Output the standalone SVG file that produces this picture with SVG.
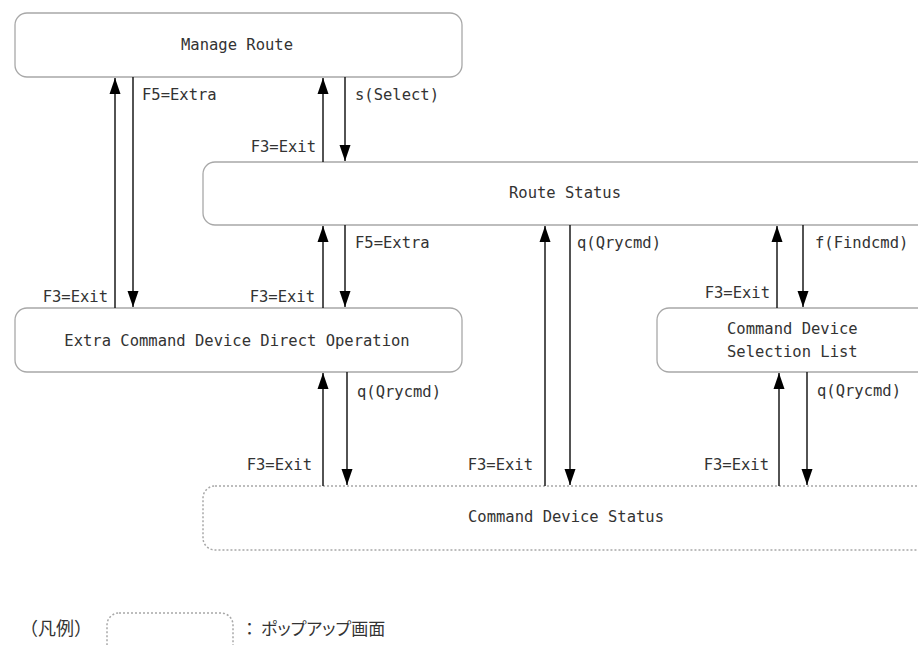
<svg xmlns="http://www.w3.org/2000/svg" width="918" height="645" viewBox="0 0 918 645">
<style>
.box{fill:#fff;stroke:#a8a8a8;stroke-width:1.3}
.pop{fill:#fff;stroke:#a8a8a8;stroke-width:1.5;stroke-dasharray:2 2}
.t{font-family:"DejaVu Sans Mono","Liberation Mono",monospace;font-size:15.5px;fill:#333}
.c{text-anchor:middle}
.r{text-anchor:end}
.jp{font-family:"Noto Sans CJK JP","Noto Sans",sans-serif;font-size:17px;fill:#333}
.pa{font-feature-settings:"palt"}
.ln{stroke:#1a1a1a;stroke-width:1.5;fill:none;marker-end:url(#ah)}
</style>
<defs>
<marker id="ah" viewBox="0 -6 16 12" refX="16" refY="0" markerWidth="16" markerHeight="12" markerUnits="userSpaceOnUse" orient="auto">
<path d="M0,-5.5 L16,0 L0,5.5 z" fill="#000"/>
</marker>
</defs>
<rect width="918" height="645" fill="#fff"/>

<g id="manage-route">
<rect class="box" x="15" y="13" width="447" height="64" rx="12"/>
<text class="t c" x="237" y="50">Manage Route</text>
</g>
<g id="route-status">
<rect class="box" x="203" y="162" width="740" height="63" rx="12"/>
<text class="t c" x="565" y="198">Route Status</text>
</g>
<g id="extra-command">
<rect class="box" x="15" y="308" width="447" height="64" rx="12"/>
<text class="t c" x="237" y="346">Extra Command Device Direct Operation</text>
</g>
<g id="cmd-selection">
<rect class="box" x="657" y="308" width="290" height="64" rx="12"/>
<text class="t" x="727" y="334">Command Device</text>
<text class="t" x="727" y="357">Selection List</text>
</g>
<g id="cmd-status">
<rect class="pop" x="203" y="486" width="740" height="64" rx="12"/>
<text class="t" x="468" y="522">Command Device Status</text>
</g>

<g id="connectors">
<line class="ln" x1="115" y1="308" x2="115" y2="78"/>
<line class="ln" x1="133" y1="77" x2="133" y2="307"/>
<line class="ln" x1="323" y1="162" x2="323" y2="78"/>
<line class="ln" x1="345" y1="77" x2="345" y2="161"/>
<line class="ln" x1="323" y1="308" x2="323" y2="226"/>
<line class="ln" x1="345" y1="225" x2="345" y2="307"/>
<line class="ln" x1="545" y1="486" x2="545" y2="226"/>
<line class="ln" x1="570" y1="225" x2="570" y2="485"/>
<line class="ln" x1="777" y1="308" x2="777" y2="226"/>
<line class="ln" x1="803" y1="225" x2="803" y2="307"/>
<line class="ln" x1="323" y1="486" x2="323" y2="373"/>
<line class="ln" x1="347" y1="372" x2="347" y2="485"/>
<line class="ln" x1="779" y1="486" x2="779" y2="373"/>
<line class="ln" x1="807" y1="372" x2="807" y2="485"/>

<text class="t" x="142" y="100">F5=Extra</text>
<text class="t r" x="108" y="302">F3=Exit</text>
<text class="t" x="355" y="100">s(Select)</text>
<text class="t r" x="316" y="152">F3=Exit</text>
<text class="t" x="355" y="248">F5=Extra</text>
<text class="t r" x="315" y="302">F3=Exit</text>
<text class="t" x="577" y="248">q(Qrycmd)</text>
<text class="t r" x="533" y="470">F3=Exit</text>
<text class="t" x="815" y="248">f(Findcmd)</text>
<text class="t r" x="770" y="298">F3=Exit</text>
<text class="t" x="357" y="397">q(Qrycmd)</text>
<text class="t r" x="312" y="470">F3=Exit</text>
<text class="t" x="817" y="396">q(Qrycmd)</text>
<text class="t r" x="769" y="470">F3=Exit</text>
</g>

<g id="legend">
<text class="jp" x="20" y="635" style="font-size:18px">（凡例）</text>
<rect class="pop" x="107" y="613" width="126" height="50" rx="12"/>
<text class="jp" x="241" y="635">：<tspan class="pa" x="261">ポップアップ画面</tspan></text>
</g>
</svg>
